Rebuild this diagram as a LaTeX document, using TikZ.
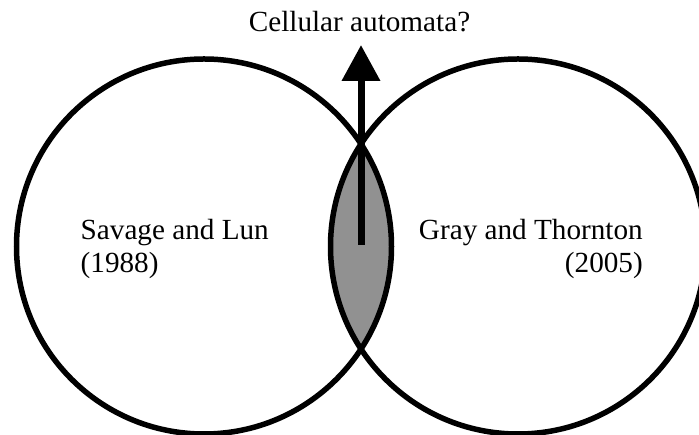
\documentclass[tikz,border=0pt]{standalone}
\usepackage{fontspec}
\setmainfont{Liberation Serif}
\usetikzlibrary{arrows.meta}
\definecolor{lensgray}{RGB}{145,145,145}
\begin{document}
\begin{tikzpicture}[x=1pt,y=1pt,
  ring/.style={draw=black,line width=5.5pt},
  lbl/.style={inner sep=0pt,font=\fontsize{29.2}{35}\selectfont},
  bigarrow/.style={line width=7pt,-{Triangle[length=36pt,width=37pt]}}]
\useasboundingbox (0,0) rectangle (699,435);
\clip (0,0) rectangle (699,435);
\coordinate (lc) at (204,188.5);
\coordinate (rc) at (518,188.5);
% lens fill
\begin{scope}
  \clip (lc) circle[radius=187.5];
  \fill[lensgray] (rc) circle[radius=187.5];
\end{scope}
\draw[ring] (lc) circle[radius=187.5];
\draw[ring] (rc) circle[radius=187.5];
% arrow
\coordinate (lens) at (361,190);
\coordinate (tip) at (361,390);
\draw[bigarrow] (lens) -- (tip);
% labels
\node[lbl,anchor=base] (ca) at (359.5,403.5) {Cellular automata?};
\node[lbl,anchor=base west] (sl1) at (80.5,195) {Savage and Lun};
\node[lbl,anchor=base west] (sl2) at (80.5,162.5) {(1988)};
\node[lbl,anchor=base east] (gt1) at (643,195) {Gray and Thornton};
\node[lbl,anchor=base east] (gt2) at (643,162.5) {(2005)};
\end{tikzpicture}
\end{document}
